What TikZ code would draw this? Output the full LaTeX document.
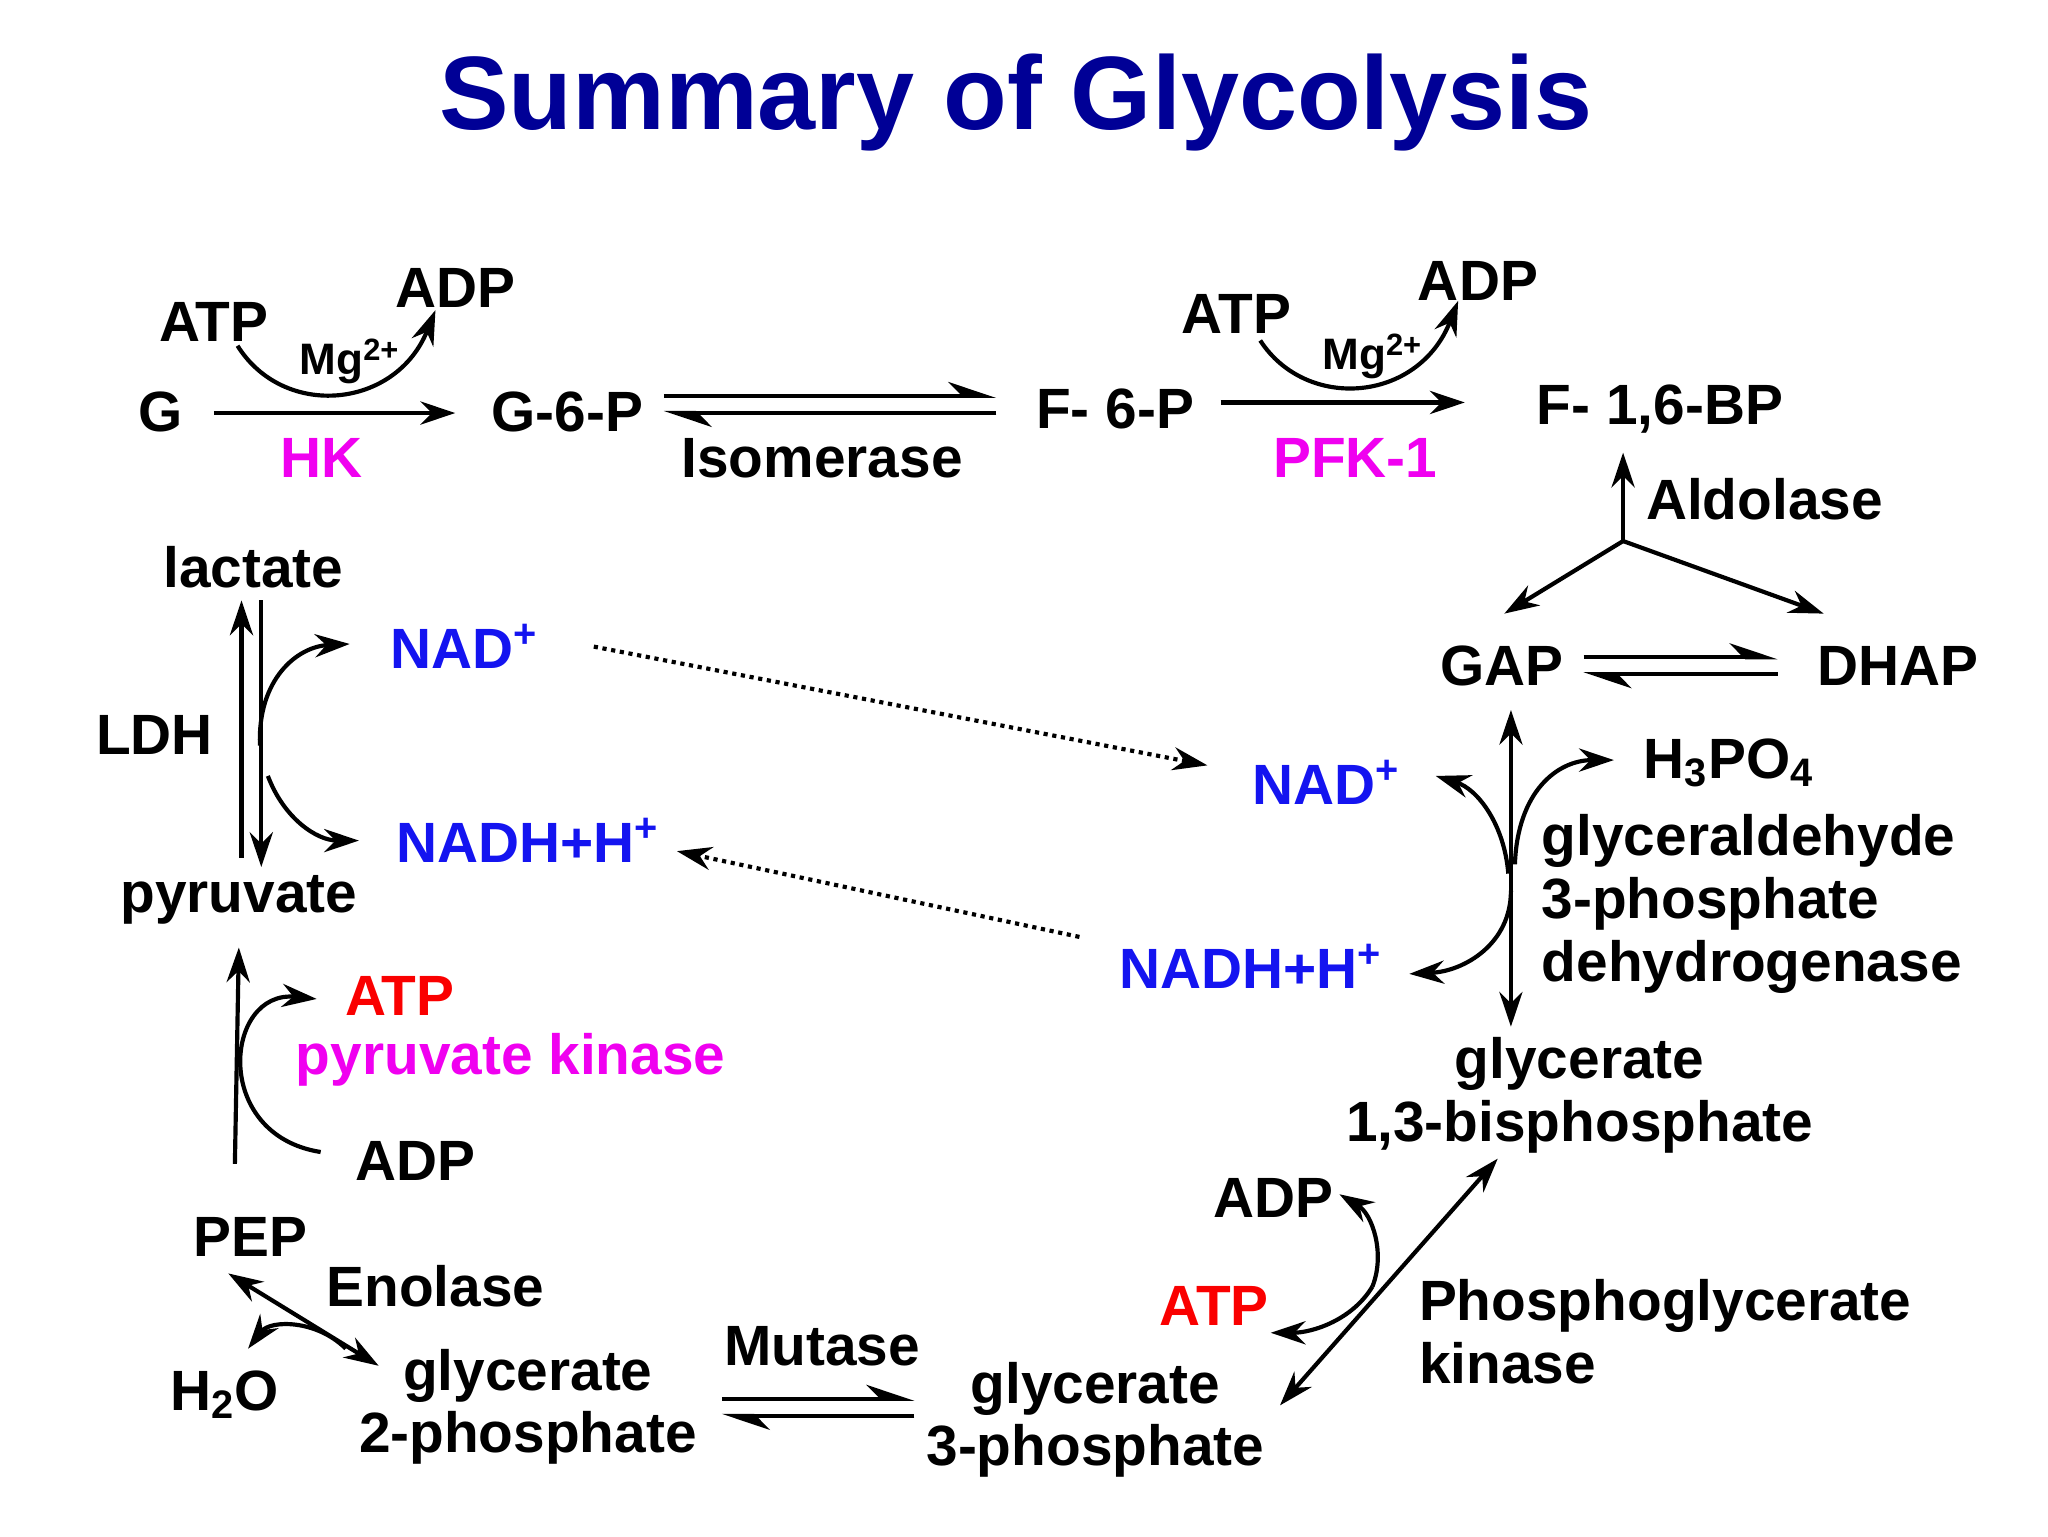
\documentclass[tikz,border=0pt]{standalone}
\usepackage{fontspec}
\setmainfont{Liberation Sans}
\usetikzlibrary{arrows.meta}
\definecolor{tblue}{RGB}{0,0,150}
\definecolor{nblue}{RGB}{20,20,240}
\definecolor{mag}{RGB}{240,0,240}
\definecolor{ared}{RGB}{250,0,0}
\newcommand{\sps}{\textsuperscript{+}}
\begin{document}
\begin{tikzpicture}[x=0.02cm,y=-0.02cm,
 t/.style={font=\fontsize{24.5}{29}\selectfont\bfseries,inner sep=0pt,align=center},
 sm/.style={font=\fontsize{19}{22}\selectfont\bfseries,inner sep=0pt},
 ar/.style={line width=1.8pt,-{Stealth[length=15pt,width=10pt]}},
 ar2/.style={line width=1.8pt,{Stealth[length=15pt,width=10pt]}-{Stealth[length=15pt,width=10pt]}},
 hf/.style={line width=1.8pt,-{Stealth[length=18pt,width=12pt,harpoon]}},
 dot/.style={line width=1.8pt,dotted,-{Stealth[length=15pt,width=10pt]}}]
\useasboundingbox (0,0) rectangle (1552,1164);
\node[font=\fontsize{45}{52}\selectfont\bfseries,text=tblue] (title) at (770,78) {Summary of Glycolysis};
% row 1
\node[t] (G) at (122,312) {G};
\node[t] (atp1) at (162,244) {ATP};
\node[t] (adp1) at (345,218) {ADP};
\node[sm] (mg1) at (265,274) {Mg\textsuperscript{2+}};
\node[t,text=mag] (hk) at (244,347) {HK};
\node[t] (G6P) at (430,312) {G-6-P};
\node[t] (iso) at (623,347) {Isomerase};
\node[t] (F6P) at (845,310) {F- 6-P};
\node[t] (atp2) at (937,238) {ATP};
\node[t] (adp2) at (1120,213) {ADP};
\node[sm] (mg2) at (1040,270) {Mg\textsuperscript{2+}};
\node[t,text=mag] (pfk) at (1027,347) {PFK-1};
\node[t] (F16) at (1258,310) {F- 1,6-BP};
\coordinate (g1) at (162,313); \coordinate (g2) at (345,313);
\draw[ar] (g1) -- (g2);
\coordinate (c1a) at (180,262); \coordinate (c1b) at (330,235);
\draw[ar] (c1a) .. controls (215,318) and (300,310) .. (c1b);
\coordinate (i1) at (503,300); \coordinate (i2) at (755,300);
\coordinate (i3) at (755,313); \coordinate (i4) at (503,313);
\draw[hf] (i1) -- (i2); \draw[hf] (i3) -- (i4);
\coordinate (p1) at (925,305); \coordinate (p2) at (1110,305);
\draw[ar] (p1) -- (p2);
\coordinate (c2a) at (955,258); \coordinate (c2b) at (1105,228);
\draw[ar] (c2a) .. controls (990,312) and (1075,305) .. (c2b);
% aldolase
\coordinate (al) at (1230,410); \coordinate (alt) at (1230,343);
\draw[ar] (al) -- (alt);
\node[t,anchor=west] (ald) at (1247,378) {Aldolase};
\node[t] (GAP) at (1138,505) {GAP};
\node[t] (DHAP) at (1438,505) {DHAP};
\coordinate (ga) at (1140,465); \coordinate (da) at (1382,465);
\draw[ar] (al) -- (ga); \draw[ar] (al) -- (da);
\coordinate (e1) at (1200,498); \coordinate (e2) at (1347,498);
\coordinate (e3) at (1347,511); \coordinate (e4) at (1200,511);
\draw[hf] (e1) -- (e2); \draw[hf] (e3) -- (e4);
% GAPDH
\coordinate (v1) at (1145,538); \coordinate (v2) at (1145,778);
\draw[ar2] (v1) -- (v2);
\node[t,text=nblue] (nad2) at (1005,593) {NAD\sps};
\node[t] (h3) at (1310,578) {H$_{\mathbf 3}$PO$_{\mathbf 4}$};
\node[t,text=nblue] (nadh2) at (948,732) {NADH+H\sps};
\node[t,anchor=west,align=left] (gapdh) at (1168,685) {glyceraldehyde\\[-2pt]3-phosphate\\[-2pt]dehydrogenase};
\coordinate (m1) at (1143,662); \coordinate (m1e) at (1088,588);
\draw[ar] (m1) .. controls (1140,625) and (1120,598) .. (m1e);
\coordinate (m2) at (1148,655); \coordinate (m2e) at (1223,576);
\draw[ar] (m2) .. controls (1150,600) and (1180,576) .. (m2e);
\coordinate (m3) at (1145,675); \coordinate (m3e) at (1068,738);
\draw[ar] (m3) .. controls (1145,715) and (1110,736) .. (m3e);
\node[t] (g13) at (1197,830) {glycerate\\[-2pt]1,3-bisphosphate};
% PGK
\coordinate (k1) at (970,1065); \coordinate (k2) at (1135,878);
\draw[ar2] (k1) -- (k2);
\node[t] (adp3) at (965,908) {ADP};
\node[t,text=ared] (atp3) at (920,990) {ATP};
\node[t,anchor=west,align=left] (pgk) at (1075,1009) {Phosphoglycerate\\[-2pt]kinase};
\coordinate (q0) at (1040,975); \coordinate (qa) at (1015,905); \coordinate (qb) at (963,1010);
\draw[ar] (q0) .. controls (1050,950) and (1040,920) .. (qa);
\draw[ar] (q0) .. controls (1025,1000) and (995,1010) .. (qb);
\node[t] (g3) at (830,1076) {glycerate\\[-2pt]3-phosphate};
\node[t] (mut) at (623,1020) {Mutase};
\coordinate (u1) at (547,1060); \coordinate (u2) at (693,1060);
\coordinate (u3) at (693,1073); \coordinate (u4) at (547,1073);
\draw[hf] (u1) -- (u2); \draw[hf] (u3) -- (u4);
\node[t] (g2p) at (400,1066) {glycerate\\[-2pt]2-phosphate};
% enolase
\node[t] (PEP) at (190,937) {PEP};
\node[t] (eno) at (330,975) {Enolase};
\node[t] (h2o) at (170,1057) {H$_{\mathbf 2}$O};
\coordinate (n1) at (287,1035); \coordinate (n2) at (173,965);
\draw[ar2] (n1) -- (n2);
\coordinate (w0) at (262,1022); \coordinate (we) at (188,1022);
\draw[ar] (w0) .. controls (240,1000) and (205,1000) .. (we);
% pyruvate kinase
\coordinate (y1) at (178,882); \coordinate (y2) at (181,718);
\draw[ar] (y1) -- (y2);
\node[t,text=ared] (atp4) at (303,755) {ATP};
\node[t,text=mag] (pk) at (387,803) {pyruvate kinase};
\node[t] (adp4) at (315,880) {ADP};
\coordinate (z0) at (243,873); \coordinate (ze) at (240,757);
\draw[ar] (z0) .. controls (160,860) and (170,750) .. (ze);
\node[t] (pyr) at (181,682) {pyruvate};
\node[t] (lac) at (192,430) {lactate};
\node[t] (ldh) at (117,557) {LDH};
\coordinate (l1) at (183,650); \coordinate (l2) at (183,455);
\coordinate (l3) at (198,455); \coordinate (l4) at (198,657);
\draw[ar] (l1) -- (l2); \draw[ar] (l3) -- (l4);
\node[t,text=nblue] (nad1) at (352,490) {NAD\sps};
\node[t,text=nblue] (nadh1) at (400,637) {NADH+H\sps};
\coordinate (r0) at (197,565); \coordinate (re) at (265,488);
\draw[ar] (r0) .. controls (195,515) and (225,490) .. (re);
\coordinate (s0) at (203,588); \coordinate (se) at (272,637);
\draw[ar] (s0) .. controls (215,620) and (240,637) .. (se);
% dotted
\coordinate (d1) at (450,490); \coordinate (d2) at (915,580);
\coordinate (d3) at (818,710); \coordinate (d4) at (513,645);
\draw[dot] (d1) -- (d2); \draw[dot] (d3) -- (d4);
\end{tikzpicture}
\end{document}
